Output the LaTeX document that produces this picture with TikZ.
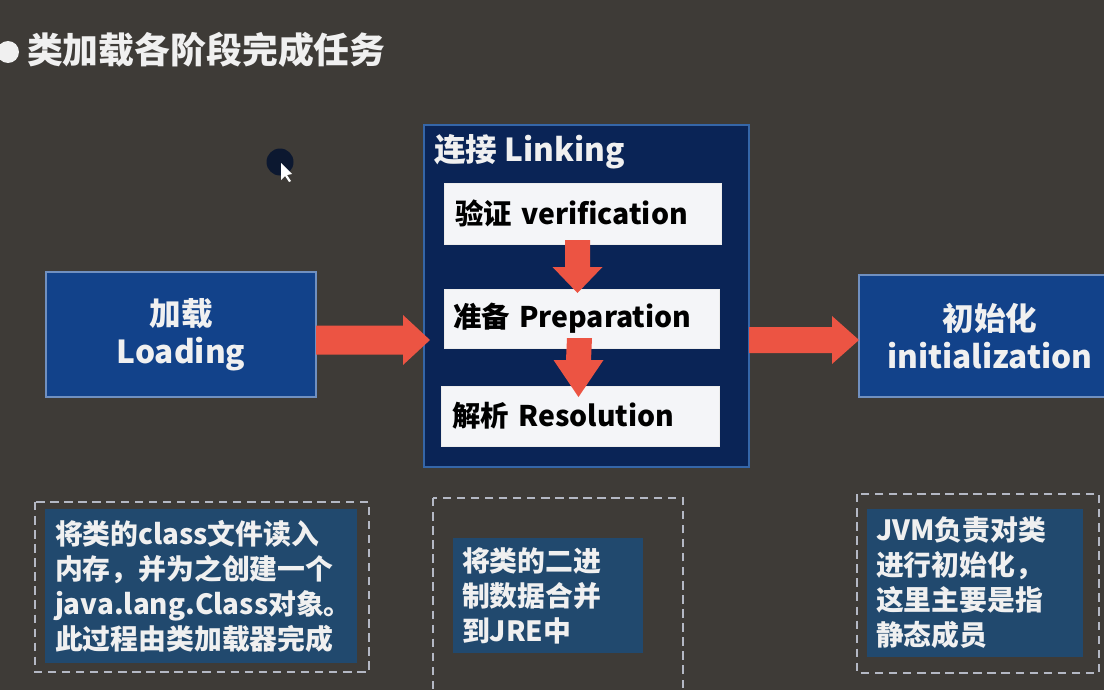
\documentclass[tikz,border=0pt]{standalone}
\usepackage{fontspec}
\setmainfont{Noto Sans CJK SC}
\usetikzlibrary{calc}

\definecolor{board}{HTML}{3E3B37}
\definecolor{loadblue}{HTML}{12428A}
\definecolor{loadedge}{HTML}{7090C0}
\definecolor{navy}{HTML}{0A2456}
\definecolor{navyedge}{HTML}{3566A8}
\definecolor{noteblue}{HTML}{21496E}
\definecolor{dashgrey}{HTML}{B4B8C4}
\definecolor{chalk}{HTML}{F0F0F0}
\definecolor{arrowred}{HTML}{EC5443}
\definecolor{stepwhite}{HTML}{F4F5F8}
\definecolor{dotblue}{HTML}{0C1830}

\tikzset{
  every node/.style={inner sep=0pt, outer sep=0pt},
  phasebox/.style={draw=loadedge, line width=1.4pt, fill=loadblue, text=chalk,
    font=\bfseries\fontsize{22.5}{27}\selectfont, align=center},
  linkbox/.style={draw=navyedge, line width=1.6pt, fill=navy},
  stepbox/.style={fill=stepwhite, draw=white!85!gray, line width=0.6pt,
    text=black, font=\bfseries\fontsize{20.2}{24}\selectfont, anchor=west},
  notebox/.style={fill=noteblue, text=chalk, align=left,
    font=\bfseries\fontsize{19.8}{24.9}\selectfont},
  dashframe/.style={draw=dashgrey, line width=1.4pt, dash pattern=on 6pt off 4pt},
  redarrow/.style={fill=arrowred},
}

\begin{document}
\begin{tikzpicture}[x=0.025cm, y=-0.025cm]
  % board
  \fill[board] (0,0) rectangle (1104,690);
  \useasboundingbox (0,0) rectangle (1104,690);

  % heading with bullet
  \fill[chalk] (8,52) circle (11);
  \node[anchor=west, text=chalk, font=\bfseries\fontsize{25.5}{30}\selectfont]
    (title) at (27,50) {类加载各阶段完成任务};

  % pointer dot
  \fill[dotblue] (280,162) circle (13.5);
  \fill[white] (281,163) -- (281,180) -- (285,176) -- (289,182) -- (291,181) -- (287,175) -- (292,174) -- cycle;

  % main phases
  \node[phasebox, minimum width=270*0.025cm, minimum height=125*0.025cm]
    (load) at (181,334.5) {加载\\Loading};
  \node[linkbox, minimum width=325*0.025cm, minimum height=342*0.025cm]
    (link) at (586.5,296) {};
  \node[anchor=west, text=chalk, font=\bfseries\fontsize{22.5}{27}\selectfont]
    (linktitle) at (434,152) {连接 Linking};
  \node[phasebox, minimum width=262*0.025cm, minimum height=122*0.025cm]
    (init) at (990,336) {初始化\\initialization};

  % linking steps
  \node[stepbox, minimum width=277*0.025cm, minimum height=61*0.025cm,
    text width=255*0.025cm] (ver) at (444,213.5) {验证 verification};
  \node[stepbox, minimum width=275*0.025cm, minimum height=59*0.025cm,
    text width=257*0.025cm] (prep) at (444,318.5) {准备 Preparation};
  \node[stepbox, minimum width=278*0.025cm, minimum height=60*0.025cm,
    text width=256*0.025cm] (res) at (441,416) {解析 Resolution};

  % block arrows between phases
  \coordinate (a1s) at ($(load.east)+(0,5.5)$);
  \coordinate (a1t) at ($(link.west |- a1s)+(6,0)$);
  \fill[redarrow] ($(a1s)+(0,-14.5)$) -- ($(a1t)+(-27,-14.5)$) -- ($(a1t)+(-27,-25)$)
    -- (a1t) -- ($(a1t)+(-27,25)$) -- ($(a1t)+(-27,14.5)$) -- ($(a1s)+(0,14.5)$) -- cycle;

  \coordinate (a2s) at ($(link.east |- init.west)+(0,4)$);
  \coordinate (a2t) at ($(init.west |- a2s)$);
  \fill[redarrow] ($(a2s)+(0,-13)$) -- ($(a2t)+(-27,-13)$) -- ($(a2t)+(-27,-24)$)
    -- (a2t) -- ($(a2t)+(-27,24)$) -- ($(a2t)+(-27,13)$) -- ($(a2s)+(0,13)$) -- cycle;

  % arrows between linking steps
  \coordinate (d1s) at ($(ver.south)+(-5,-4)$);
  \coordinate (d1t) at ($(prep.north)+(-4,4)$);
  \fill[redarrow] ($(d1s)+(-12.5,0)$) -- ($(d1t)+(-12.5,-26)$) -- ($(d1t)+(-25,-26)$)
    -- (d1t) -- ($(d1t)+(25,-26)$) -- ($(d1t)+(12.5,-26)$) -- ($(d1s)+(12.5,0)$) -- cycle;

  \coordinate (d2s) at ($(prep.south)+(-2,-10)$);
  \coordinate (d2t) at ($(res.north)+(-1.5,11)$);
  \fill[redarrow] ($(d2s)+(-12.5,0)$) -- ($(d2t)+(-12.5,-37)$) -- ($(d2t)+(-25,-37)$)
    -- (d2t) -- ($(d2t)+(25,-37)$) -- ($(d2t)+(12.5,-37)$) -- ($(d2s)+(12.5,0)$) -- cycle;

  % notes under each phase
  \draw[dashframe] (35,502) rectangle (369,672);
  \node[notebox, minimum width=312*0.025cm, minimum height=154*0.025cm,
    text width=292*0.025cm] (loadnote) at (201,586)
    {将类的class文件读入\\内存，并为之创建一个\\java.lang.Class对象。\\此过程由类加载器完成};

  \draw[dashframe] (433,498) rectangle (683,700);
  \node[notebox, minimum width=190*0.025cm, minimum height=115*0.025cm,
    text width=172*0.025cm] (linknote) at (548,595.5)
    {将类的二进\\制数据合并\\到JRE中};

  \draw[dashframe] (857,494) rectangle (1099,673);
  \node[notebox, minimum width=216*0.025cm, minimum height=148*0.025cm,
    text width=198*0.025cm] (initnote) at (975,583)
    {JVM负责对类\\进行初始化，\\这里主要是指\\静态成员};
\end{tikzpicture}
\end{document}
